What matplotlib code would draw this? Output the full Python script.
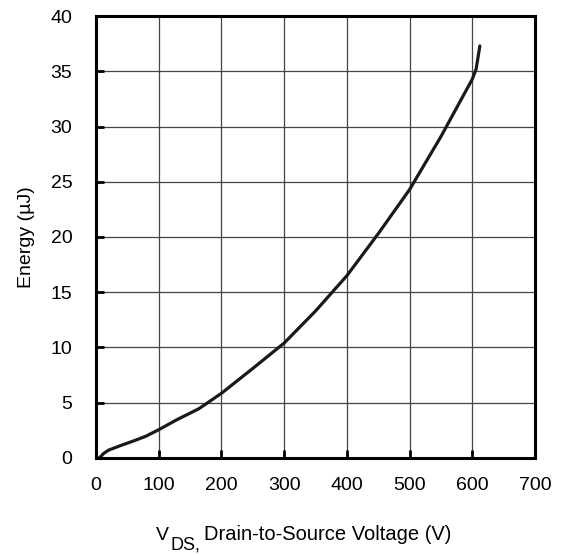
import matplotlib
matplotlib.use("Agg")
import matplotlib.pyplot as plt

plt.rcParams['font.family'] = ['Liberation Sans', 'DejaVu Sans']

# switching energy curve
vds = [5, 8, 12, 20, 36, 63, 79, 100, 127, 164, 200, 250, 300, 350, 400,
       450, 500, 550, 600, 606, 612]
energy = [0.0, 0.15, 0.4, 0.7, 1.05, 1.6, 1.95, 2.55, 3.4, 4.45, 5.85, 8.1,
          10.4, 13.3, 16.5, 20.3, 24.3, 29.1, 34.3, 35.2, 37.3]

x_ticks = [0, 100, 200, 300, 400, 500, 600, 700]
y_ticks = [0, 5, 10, 15, 20, 25, 30, 35, 40]

fig = plt.figure(figsize=(5.65, 5.55), dpi=100)
ax = fig.add_axes([0.170, 0.175, 0.777, 0.796])

ax.plot(vds, energy, color='#1a1a1a', lw=2.3, solid_capstyle='round')

ax.set_xlim(0, 700)
ax.set_ylim(0, 40)
ax.set_xticks(x_ticks)
ax.set_yticks(y_ticks)
ax.grid(True, color='#444444', lw=0.9)
ax.set_axisbelow(True)

for s in ax.spines.values():
    s.set_linewidth(2.2)
ax.tick_params(direction='in', length=6, width=2, labelsize=14)
ax.tick_params(axis='y', pad=17)
ax.tick_params(axis='x', pad=14)

ax.set_ylabel('Energy (µJ)', fontsize=14, labelpad=11)

# x label: V with a large, low "DS," subscript, then the rest
fig.text(156 / 565, 1 - 540 / 555, 'V', fontsize=14, va='baseline')
fig.text(170 / 565, 1 - 549 / 555, 'DS,', fontsize=13, va='baseline')
fig.text(204 / 565, 1 - 540 / 555, 'Drain-to-Source Voltage (V)',
         fontsize=14.5, va='baseline')

fig.savefig('out.png', dpi=100)
